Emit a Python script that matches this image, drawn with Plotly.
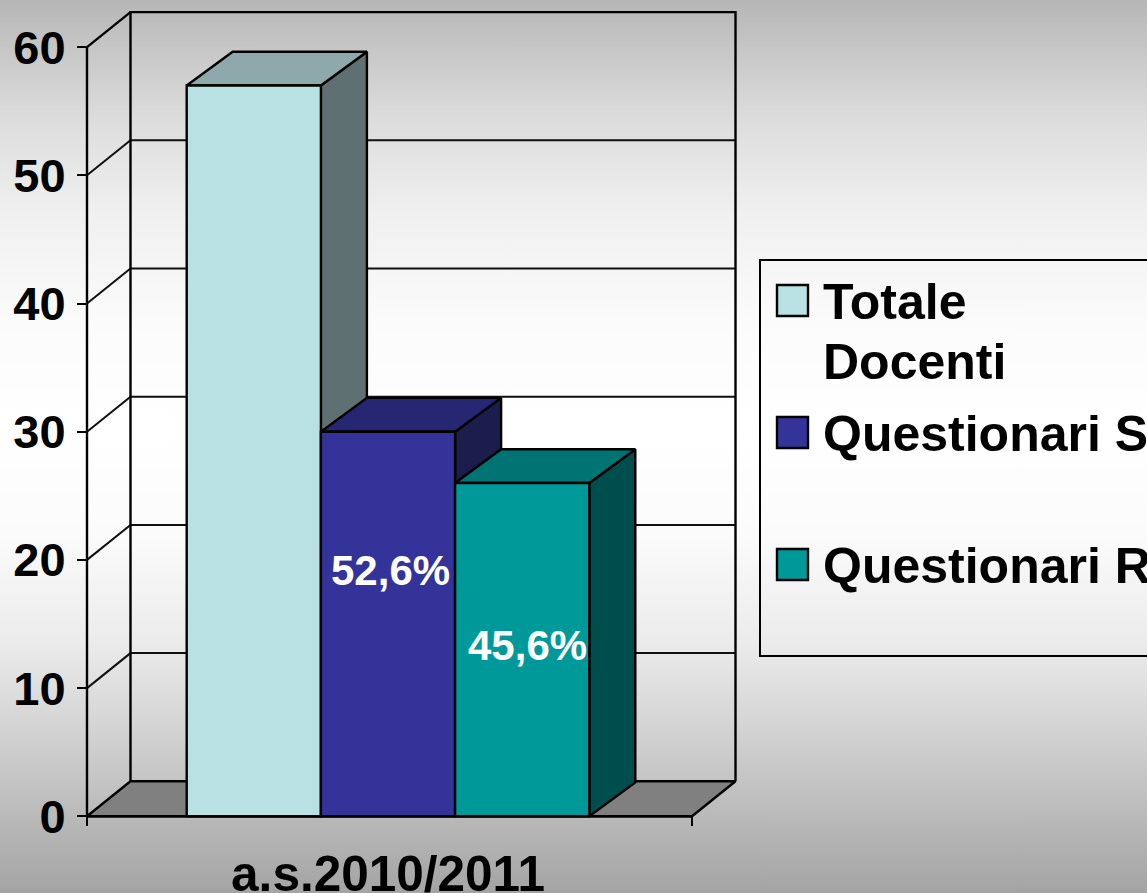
import base64
import plotly.graph_objects as go

# ---- data ----
CATEGORY = "a.s.2010/2011"
SERIES_NAMES = ["Totale Docenti", "Questionari S", "Questionari R"]
SERIES_VALUES = [57, 30, 26]
BAR_LABELS = ["", "52,6%", "45,6%"]
Y_TICKS = [0, 10, 20, 30, 40, 50, 60]
LEGEND_LINES = [["Totale", "Docenti"], ["Questionari S"], ["Questionari R"]]

# ---- styles ----
FRONT = ["#B9E0E3", "#333399", "#009999"]
TOP = ["#8FA8AB", "#262673", "#007373"]
SIDE = ["#5F7073", "#1C1C4D", "#004D4D"]
FLOOR = "#808080"
FONT = "Liberation Sans"

# ---- geometry (pixels of the page <-> axis units) ----
W, H = 1147, 893
PX_X = 134.2           # one bar width
X0_PX = 388.0          # centre of the middle bar
PX_Y = 12.82           # one value unit
Y0_PX = 816.3          # value 0
x_range = [(0 - X0_PX) / PX_X, (W - X0_PX) / PX_X]
y_range = [(Y0_PX - H) / PX_Y, Y0_PX / PX_Y]
AX_L = (87 - X0_PX) / PX_X
AX_R = (692 - X0_PX) / PX_X
WALL_DX, WALL_DY = 43.5 / PX_X, 35.0 / PX_Y
BAR_DX, BAR_DY = 46.0 / PX_X, 33.8 / PX_Y
LABEL_Y = [0, 19.2, 13.35]
LABEL_X_SHIFT = [0, 0.022, 0.041]
BAR_X = [-1, 0, 1]


def px(x):
    return x / W


def py(y):
    return 1 - y / H


svg = (
    '<svg xmlns="http://www.w3.org/2000/svg" width="1147" height="893" preserveAspectRatio="none">'
    '<defs><linearGradient id="g" x1="0" y1="0" x2="0" y2="1">'
    '<stop offset="0" stop-color="#b6b6b6"/>'
    '<stop offset="0.06" stop-color="#c8c8c8"/>'
    '<stop offset="0.14" stop-color="#dedede"/>'
    '<stop offset="0.24" stop-color="#f0f0f0"/>'
    '<stop offset="0.36" stop-color="#fbfbfb"/>'
    '<stop offset="0.48" stop-color="#ffffff"/>'
    '<stop offset="0.60" stop-color="#fbfbfb"/>'
    '<stop offset="0.72" stop-color="#ebebeb"/>'
    '<stop offset="0.83" stop-color="#d0d0d0"/>'
    '<stop offset="0.92" stop-color="#b8b8b8"/>'
    '<stop offset="1" stop-color="#a4a4a4"/>'
    '</linearGradient></defs><rect width="1147" height="893" fill="url(#g)"/></svg>'
)
bg_uri = "data:image/svg+xml;base64," + base64.b64encode(svg.encode()).decode()

fig = go.Figure()


def line(xs, ys, width=2.4, color="#000000", xa="x", ya="y"):
    fig.add_trace(go.Scatter(x=xs, y=ys, mode="lines", xaxis=xa, yaxis=ya, showlegend=False,
                             hoverinfo="skip", line=dict(color=color, width=width)))


def poly(xs, ys, fill, xa="x", ya="y"):
    fig.add_trace(go.Scatter(x=xs + xs[:1], y=ys + ys[:1], mode="lines", fill="toself", fillcolor=fill,
                             xaxis=xa, yaxis=ya, showlegend=False, hoverinfo="skip",
                             line=dict(color="#000000", width=2.4)))


# floor
poly([AX_L, AX_L + WALL_DX, AX_R + WALL_DX, AX_R], [0, WALL_DY, WALL_DY, 0], FLOOR)
# gridlines: slanted on the side wall, flat on the back wall
for t in Y_TICKS[1:-1]:
    line([AX_L, AX_L + WALL_DX, AX_R + WALL_DX], [t, t + WALL_DY, t + WALL_DY], width=2, color="#111111")
# walls
top_v = Y_TICKS[-1]
line([AX_L + WALL_DX, AX_L + WALL_DX, AX_R + WALL_DX, AX_R + WALL_DX],
     [WALL_DY, top_v + WALL_DY, top_v + WALL_DY, WALL_DY])
line([AX_L, AX_L + WALL_DX], [top_v, top_v + WALL_DY])
line([AX_L, AX_L], [0, top_v])

# side and top faces of each bar
for xc, v, ct, cs in zip(BAR_X, SERIES_VALUES, TOP, SIDE):
    l, r = xc - 0.5, xc + 0.5
    poly([r, r + BAR_DX, r + BAR_DX, r], [0, BAR_DY, v + BAR_DY, v], cs, "x2", "y2")
    poly([l, l + BAR_DX, r + BAR_DX, r], [v, v + BAR_DY, v + BAR_DY, v], ct, "x2", "y2")

# front faces
for xc, v, name, c in zip(BAR_X, SERIES_VALUES, SERIES_NAMES, FRONT):
    fig.add_trace(go.Bar(x=[xc], y=[v], width=1, name=name, xaxis="x3", yaxis="y3", showlegend=False,
                         marker=dict(color=c, line=dict(color="#000000", width=2.4))))
# front axis line above the bars
line([AX_L, AX_R], [0, 0], width=2.6, xa="x3", ya="y3")

annotations = []
for xc, lab, ly, sh in zip(BAR_X, BAR_LABELS, LABEL_Y, LABEL_X_SHIFT):
    if lab:
        annotations.append(dict(x=xc + sh, y=ly, xref="x3", yref="y3", text=lab, showarrow=False,
                                font=dict(family=FONT, size=42, color="#ffffff", weight=700)))

# legend, drawn to scale with the reference
shapes = [dict(type="rect", xref="paper", yref="paper", x0=px(760), x1=px(1170), y0=py(260), y1=py(656),
               line=dict(color="#000000", width=2), fillcolor="rgba(0,0,0,0)")]
swatch_tops = [285, 417, 549]
line_centres = [[302, 362], [434], [566]]
for top, c, lines, centres in zip(swatch_tops, FRONT, LEGEND_LINES, line_centres):
    shapes.append(dict(type="rect", xref="paper", yref="paper", x0=px(777), x1=px(808), y0=py(top), y1=py(top + 31),
                       line=dict(color="#000000", width=2.4), fillcolor=c))
    for t, cy in zip(lines, centres):
        annotations.append(dict(x=px(821), y=py(cy), xref="paper", yref="paper", xanchor="left", yanchor="middle",
                                text=t, showarrow=False, align="left",
                                font=dict(family=FONT, size=50, color="#000000", weight=700)))

hidden = dict(visible=False, fixedrange=True)
fig.update_layout(
    width=W, height=H, margin=dict(l=0, r=0, t=0, b=0, autoexpand=False),
    paper_bgcolor="rgba(0,0,0,0)", plot_bgcolor="rgba(0,0,0,0)",
    barmode="overlay", showlegend=False,
    font=dict(family=FONT),
    images=[dict(source=bg_uri, xref="paper", yref="paper", x=0, y=1, sizex=1, sizey=1,
                 sizing="stretch", layer="below", xanchor="left", yanchor="top")],
    shapes=shapes, annotations=annotations,
    xaxis=dict(domain=[0, 1], range=x_range, anchor="free", position=py(Y0_PX), showgrid=False, zeroline=False,
               showline=False, tickmode="array", tickvals=[0], ticktext=[CATEGORY], ticks="", ticklen=0,
               ticklabelstandoff=24, automargin=False,
               tickfont=dict(family=FONT, size=49.5, color="#000000", weight=700),
               minor=dict(tickmode="array", tickvals=[AX_L, AX_R], ticks="outside", ticklen=9, tickwidth=2.4,
                          tickcolor="#000000", showgrid=False)),
    yaxis=dict(domain=[0, 1], range=y_range, anchor="free", position=px(87), side="left", showgrid=False,
               zeroline=False, showline=False, tickmode="array", tickvals=Y_TICKS, ticks="outside", ticklen=10,
               tickwidth=2.4, tickcolor="#000000", ticklabelstandoff=2, automargin=False,
               tickfont=dict(family=FONT, size=47, color="#000000", weight=700)),
    xaxis2=dict(range=x_range, overlaying="x", anchor="y2", **hidden),
    yaxis2=dict(range=y_range, overlaying="y", anchor="x2", **hidden),
    xaxis3=dict(range=x_range, overlaying="x", anchor="y3", **hidden),
    yaxis3=dict(range=y_range, overlaying="y", anchor="x3", **hidden),
)

fig.write_html("out.html", config=dict(displayModeBar=False),
               post_script="document.body.style.margin='0';document.body.style.overflow='hidden';")
